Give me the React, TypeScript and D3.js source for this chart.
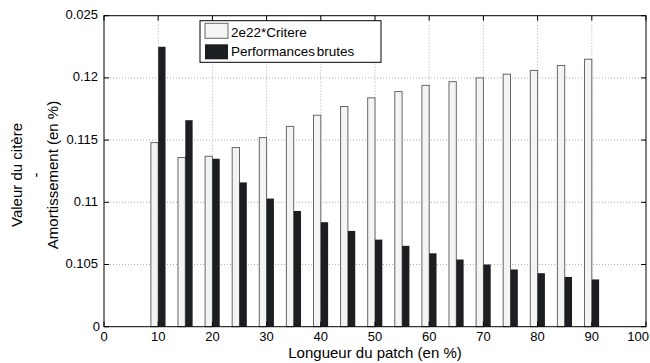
import * as d3 from "d3";

// longueur du patch (en %)
const patchLengths = [10, 15, 20, 25, 30, 35, 40, 45, 50, 55, 60, 65, 70, 75, 80, 85, 90];
// 2e22*Critere
const critere = [
  0.1148, 0.1136, 0.1137, 0.1144, 0.1152, 0.1161, 0.117, 0.1177, 0.1184,
  0.1189, 0.1194, 0.1197, 0.12, 0.1203, 0.1206, 0.121, 0.1215,
];
// Performances brutes
const performances = [
  0.1225, 0.1166, 0.1135, 0.1116, 0.1103, 0.1093, 0.1084, 0.1077, 0.107,
  0.1065, 0.1059, 0.1054, 0.105, 0.1046, 0.1043, 0.104, 0.1038,
];
const xTicks = [0, 10, 20, 30, 40, 50, 60, 70, 80, 90, 100];
const yTicks = [0.1, 0.105, 0.11, 0.115, 0.12, 0.125];
const yTickLabels = ["0", "0.105", "0.11", "0.115", "0.12", "0.025"];
const seriesNames = ["2e22*Critere", "Performances brutes"];

const W = 650;
const H = 363;
const margin = { top: 15.7, right: 4, bottom: 36.3, left: 104 };
const font = "'Liberation Sans', Arial, Helvetica, sans-serif";

export default function App() {
  const x = d3.scaleLinear().domain([0, 100]).range([margin.left, W - margin.right]);
  const y = d3.scaleLinear().domain([0.1, 0.125]).range([H - margin.bottom, margin.top]);
  const barW = 1.35;
  const [x0, x1] = x.range();
  const [y0, y1] = y.range();
  const tick = 5;

  return (
    <svg
      width={W}
      height={H}
      style={{ position: "absolute", left: 0, top: 0, background: "#fff" }}
      fontFamily={font}
    >
      {/* grid */}
      {xTicks.slice(1, -1).map((t) => (
        <line key={"gx" + t} x1={x(t)} x2={x(t)} y1={y1} y2={y0}
          stroke="#9a9a9a" strokeWidth={0.8} strokeDasharray="1,2" />
      ))}
      {yTicks.slice(1, -1).map((t) => (
        <line key={"gy" + t} x1={x0} x2={x1} y1={y(t)} y2={y(t)}
          stroke="#9a9a9a" strokeWidth={0.8} strokeDasharray="1,2" />
      ))}

      {/* bars */}
      {patchLengths.map((p, i) => (
        <g key={"b" + p}>
          <rect x={x(p - barW)} width={x(p) - x(p - barW)} y={y(critere[i])}
            height={y0 - y(critere[i])} fill="#f3f5f3" stroke="#666" strokeWidth={1} />
          <rect x={x(p)} width={x(p + barW) - x(p)} y={y(performances[i])}
            height={y0 - y(performances[i])} fill="#1d1e21" />
        </g>
      ))}

      {/* frame and ticks */}
      <rect x={x0} y={y1} width={x1 - x0} height={y0 - y1} fill="none" stroke="#000" strokeWidth={1} />
      {xTicks.map((t, i) => {
        const last = i === xTicks.length - 1;
        return (
          <g key={"tx" + t}>
            <line x1={x(t)} x2={x(t)} y1={y0} y2={y0 - tick} stroke="#000" />
            <line x1={x(t)} x2={x(t)} y1={y1} y2={y1 + tick} stroke="#000" />
            <text x={last ? W - 1 : x(t)} y={341} fontSize={13}
              textAnchor={last ? "end" : "middle"} fill="#000">{t}</text>
          </g>
        );
      })}
      {yTicks.map((t, i) => (
        <g key={"ty" + t}>
          <line x1={x0} x2={x0 + tick} y1={y(t)} y2={y(t)} stroke="#000" />
          <line x1={x1} x2={x1 - tick} y1={y(t)} y2={y(t)} stroke="#000" />
          <text x={i === 0 ? 100 : 98} y={y(t) + (i === 0 ? 1 : 0)} fontSize={13}
            textAnchor="end" dominantBaseline="middle" fill="#000">{yTickLabels[i]}</text>
        </g>
      ))}

      {/* axis labels */}
      <text x={(x0 + x1) / 2} y={358} fontSize={15} textAnchor="middle" fill="#000">
        Longueur du patch (en %)
      </text>
      <g transform={`translate(0,175) rotate(-90)`}>
        <text x={0} y={22} fontSize={15} textAnchor="middle" fill="#000">Valeur du citère</text>
        <text x={0} y={41} fontSize={15} textAnchor="middle" fill="#000">-</text>
        <text x={0} y={58} fontSize={15} textAnchor="middle" fill="#000">Amortissement (en %)</text>
      </g>

      {/* legend */}
      <rect x={200} y={20.7} width={181} height={41.6} fill="#fff" stroke="#000" strokeWidth={1} />
      <rect x={205} y={23.3} width={23} height={15} fill="#f3f5f3" stroke="#666" />
      <rect x={205} y={44.3} width={23} height={15} fill="#1d1e21" />
      <text x={231} y={36.5} fontSize={13.5} fill="#000">{seriesNames[0]}</text>
      <text x={231} y={56} fontSize={13.5} wordSpacing={-2} fill="#000">{seriesNames[1]}</text>
    </svg>
  );
}
